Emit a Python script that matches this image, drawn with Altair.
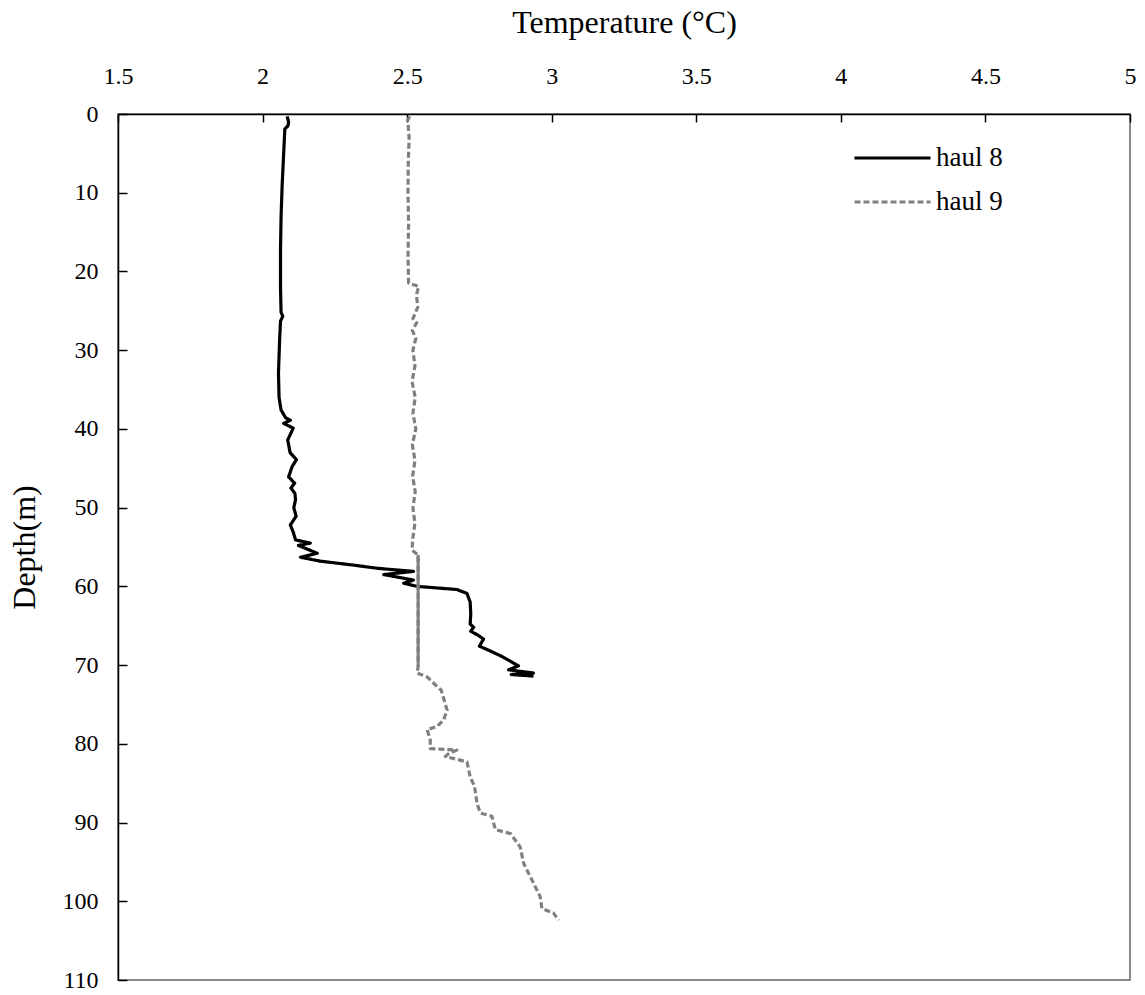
import altair as alt
import pandas as pd

# ---- data ----
haul8_depth = [0.3, 1.0, 1.5, 1.9, 5, 8.8, 13, 17.3, 22, 25.2, 25.7, 26.3, 28.7, 32.9, 36,
               37.6, 38.6, 38.9, 39.3, 39.9, 41.4, 43.0, 43.9, 44.8, 46.1, 46.9, 47.5, 48.2,
               49.0, 50.0, 51.1, 52.2, 53.1, 54.1, 54.5, 54.8, 55.8, 56.3, 56.8, 57.3, 57.7,
               58.1, 58.5, 59.2, 59.6, 60.0, 60.4, 60.9, 62.0, 63.5, 64.8, 65.2, 65.7, 66.2,
               66.7, 67.6, 68.2, 68.8, 69.5, 70.1, 70.6, 71.0, 71.2, 71.4]
haul8_temp = [2.085, 2.09, 2.088, 2.077, 2.073, 2.068, 2.064, 2.062, 2.062, 2.064, 2.07, 2.062,
              2.059, 2.055, 2.057, 2.064, 2.08, 2.096, 2.073, 2.106, 2.087, 2.095, 2.117, 2.102,
              2.09, 2.111, 2.098, 2.112, 2.114, 2.108, 2.116, 2.096, 2.106, 2.114, 2.165, 2.124,
              2.189, 2.131, 2.2, 2.314, 2.396, 2.522, 2.419, 2.522, 2.488, 2.534, 2.672, 2.707,
              2.718, 2.72, 2.718, 2.73, 2.72, 2.745, 2.764, 2.75, 2.787, 2.822, 2.857, 2.885,
              2.851, 2.937, 2.86, 2.937]

haul9_depth = [0.3, 0.8, 3, 6, 10, 14, 18, 21.5, 21.9, 23, 24.5, 26, 26.5, 27.5, 28.5, 30, 32,
               34, 36, 38, 40, 42, 44, 46, 48, 50, 52, 54, 55.4, 56.0, 70.2, 71.0, 71.5, 72.7,
               73.2, 75.7, 77.0, 77.8, 78.2, 79.5, 80.6, 80.8, 81.2, 81.6, 82.3, 84.2, 85.4,
               87.6, 88.8, 89.2, 90.9, 91.4, 93.1, 95.2, 97.7, 99.4, 100.9, 101.5, 102.4]
haul9_temp = [2.509, 2.502, 2.507, 2.504, 2.503, 2.505, 2.503, 2.505, 2.54, 2.532, 2.537, 2.52,
              2.533, 2.518, 2.53, 2.52, 2.527, 2.517, 2.528, 2.52, 2.53, 2.518, 2.527, 2.519,
              2.528, 2.52, 2.527, 2.519, 2.517, 2.538, 2.538, 2.534, 2.569, 2.603, 2.618, 2.638,
              2.626, 2.603, 2.569, 2.58, 2.58, 2.672, 2.645, 2.632, 2.707, 2.718, 2.733, 2.742,
              2.753, 2.793, 2.805, 2.857, 2.891, 2.903, 2.937, 2.96, 2.966, 3.006, 3.024]

series_names = ["haul 8", "haul 9"]
series_colors = ["#000000", "#808080"]
series_dash = [[1, 0], [6, 3]]
x_ticks = [1.5, 2, 2.5, 3, 3.5, 4, 4.5, 5]
y_ticks = [0, 10, 20, 30, 40, 50, 60, 70, 80, 90, 100, 110]
haul9_solid_range = [56.0, 70.2]

assert len(haul8_depth) == len(haul8_temp)
assert len(haul9_depth) == len(haul9_temp)

rows = []
for i, (d, t) in enumerate(zip(haul8_depth, haul8_temp)):
    rows.append({"series": series_names[0], "idx": i, "depth": d, "temp": t})
for i, (d, t) in enumerate(zip(haul9_depth, haul9_temp)):
    rows.append({"series": series_names[1], "idx": i, "depth": d, "temp": t})
df = pd.DataFrame(rows)

FONT = "Liberation Serif"

xscale = alt.Scale(domain=[1.5, 5], nice=False, zero=False)
yscale = alt.Scale(domain=[0, 110], nice=False, zero=False, reverse=True)

x_main_axis = alt.Axis(orient="top", values=x_ticks, title="Temperature (°C)", format="~g",
                       ticks=False, tickSize=0, labelPadding=26, titlePadding=25,
                       labelFlush=False, labelOverlap=False, grid=False,
                       domainColor="black", domainWidth=1.5)
y_main_axis = alt.Axis(orient="left", values=y_ticks, title="Depth(m)", format="d",
                       ticks=False, tickSize=0, labelPadding=20, titlePadding=21,
                       labelFlush=False, labelOverlap=False, grid=False,
                       domainColor="black", domainWidth=1.5)

base = alt.Chart(df)

lines = base.mark_line(strokeWidth=3.2, strokeJoin="round").encode(
    x=alt.X("temp:Q", scale=xscale, axis=x_main_axis),
    y=alt.Y("depth:Q", scale=yscale, axis=y_main_axis),
    color=alt.Color("series:N", scale=alt.Scale(domain=series_names, range=series_colors),
                    legend=alt.Legend(title=None)),
    strokeDash=alt.StrokeDash("series:N", scale=alt.Scale(domain=series_names, range=series_dash),
                              legend=alt.Legend(title=None)),
    order=alt.Order("idx:Q"),
)

solid9 = base.transform_filter(
    (alt.datum.series == series_names[1])
    & (alt.datum.depth >= haul9_solid_range[0])
    & (alt.datum.depth <= haul9_solid_range[1])
).mark_line(strokeWidth=3, color=series_colors[1]).encode(
    x=alt.X("temp:Q", scale=xscale, axis=None),
    y=alt.Y("depth:Q", scale=yscale, axis=None),
    order=alt.Order("idx:Q"),
)

# inward tick marks: an extra axis shifted into the plot
tick_layer = base.mark_point(opacity=0).encode(
    x=alt.X("temp:Q", scale=xscale,
            axis=alt.Axis(orient="top", values=x_ticks, offset=-8, domain=False, labels=False,
                          ticks=True, tickSize=8, tickWidth=1.5, tickColor="black",
                          grid=False, title=None)),
    y=alt.Y("depth:Q", scale=yscale,
            axis=alt.Axis(orient="left", values=y_ticks, offset=-9, domain=False, labels=False,
                          ticks=True, tickSize=9, tickWidth=1.5, tickColor="black",
                          grid=False, title=None)),
)

chart = alt.layer(lines, solid9, tick_layer).resolve_axis(
    x="independent", y="independent"
).properties(
    width=1012, height=866,
    padding={"left": 110, "top": 106, "right": 7, "bottom": 10},
    autosize=alt.AutoSizeParams(type="none"),
    background="white",
).configure_view(
    stroke="#666666", strokeWidth=1.5
).configure_axis(
    labelFont=FONT, labelFontSize=24, labelColor="black",
    titleFont=FONT, titleFontSize=32, titleFontWeight="normal", titleColor="black",
).configure_legend(
    orient="none", legendX=735, legendY=24, padding=0,
    labelFont=FONT, labelFontSize=27, labelColor="black",
    symbolType="stroke", symbolSize=5776, symbolStrokeWidth=3,
    clipHeight=40, rowPadding=4, labelOffset=4,
)

chart.save("out.html", embed_options={"renderer": "svg", "actions": False})
